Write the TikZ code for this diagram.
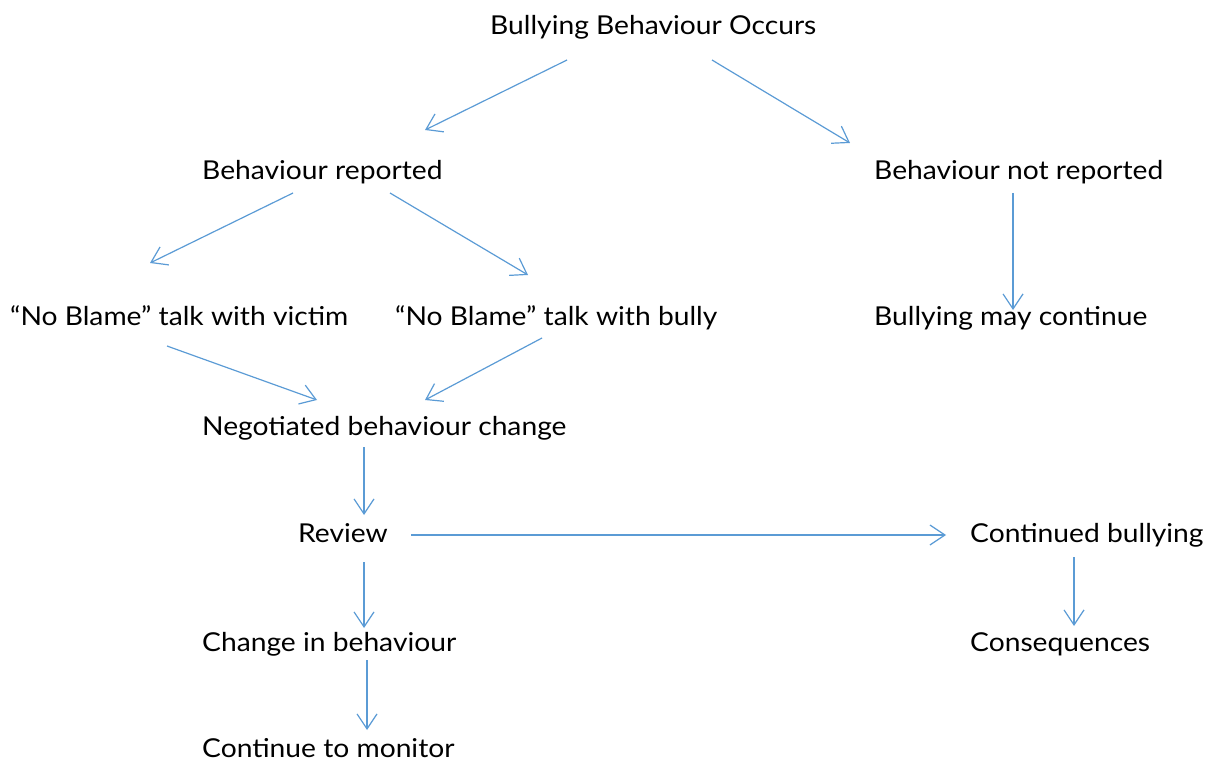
\documentclass[tikz,border=0pt]{standalone}
\usepackage{fontspec}
\setmainfont{Lato}[FakeStretch=1.085]
\usetikzlibrary{arrows.meta,calc}
\definecolor{arrblue}{RGB}{91,155,213}
\tikzset{
  lbl/.style={anchor=base west,inner sep=0pt,font=\fontsize{26}{30}\selectfont},
  arr/.style={draw=arrblue,line width=1.2pt,-{Straight Barb[length=15pt,width=20pt,line width=1.2pt]}}
}
\begin{document}
\begin{tikzpicture}[x=1pt,y=-1pt]
\useasboundingbox (0,0) rectangle (1213,762);
\node[lbl] (top)  at (490,35)  {Bullying Behaviour Occurs};
\node[lbl] (rep)  at (202,180) {Behaviour reported};
\node[lbl] (nrep) at (874,180) {Behaviour not reported};
\node[lbl] (vic)  at (10,325)  {“No Blame” talk with victim};
\node[lbl] (bul)  at (395,325) {“No Blame” talk with bully};
\node[lbl] (may)  at (874,325) {Bullying may continue};
\node[lbl] (neg)  at (202,435) {Negotiated behaviour change};
\node[lbl] (rev)  at (298,542) {Review};
\node[lbl] (cont) at (970,542) {Continued bullying};
\node[lbl] (chg)  at (202,651) {Change in behaviour};
\node[lbl] (cons) at (970,651) {Consequences};
\node[lbl] (mon)  at (202,757) {Continue to monitor};

\draw[arr] ($(top.base west)+(77,25)$) -- ($(rep.base west)+(223,-50)$);
\draw[arr] ($(top.base west)+(222,25)$) -- ($(nrep.base west)+(-24,-37)$);
\draw[arr] ($(rep.base west)+(91,13)$) -- ($(vic.base west)+(140,-62)$);
\draw[arr] ($(rep.base west)+(188,13)$) -- ($(bul.base west)+(133,-50)$);
\draw[arr] ($(nrep.base west)+(139,13)$) -- ($(may.base west)+(139,-15)$);
\draw[arr] ($(vic.base west)+(157,21)$) -- ($(neg.base west)+(115,-35)$);
\draw[arr] ($(bul.base west)+(147,13)$) -- ($(neg.base west)+(223,-35)$);
\draw[arr] ($(neg.base west)+(162,12)$) -- ($(rev.base west)+(66,-27)$);
\draw[arr] ($(rev.base west)+(113,-7)$) -- ($(cont.base west)+(-24,-7)$);
\draw[arr] ($(rev.base west)+(66,20)$) -- ($(chg.base west)+(162,-23)$);
\draw[arr] ($(cont.base west)+(104,15)$) -- ($(cons.base west)+(104,-25)$);
\draw[arr] ($(chg.base west)+(165,9)$) -- ($(mon.base west)+(165,-27)$);
\end{tikzpicture}
\end{document}
